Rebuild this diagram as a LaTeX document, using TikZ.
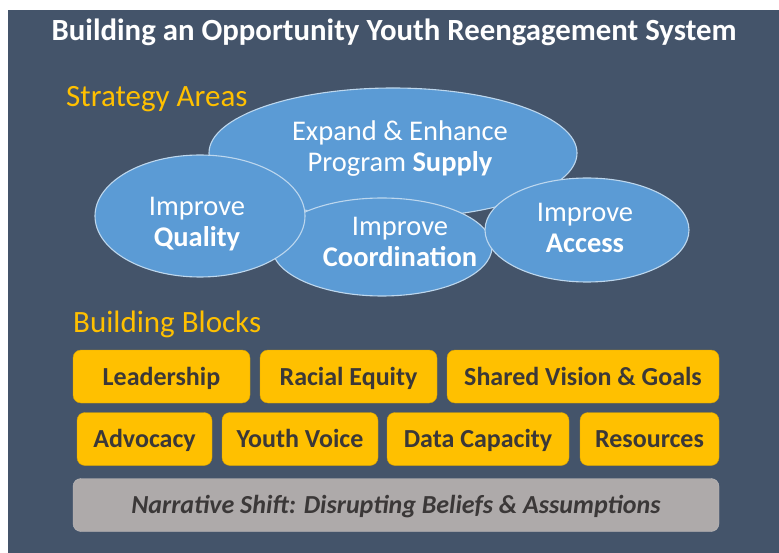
\documentclass[tikz,border=0pt]{standalone}
\usepackage{fontspec}
\setmainfont{Carlito}
\usetikzlibrary{shapes,positioning}

\definecolor{slate}{HTML}{44546A}
\definecolor{skyblue}{HTML}{5B9BD5}
\definecolor{gold}{HTML}{FFC000}
\definecolor{stone}{HTML}{AEAAAA}
\definecolor{ink}{HTML}{3B3838}

\tikzset{
    area/.style={ellipse,draw=white!60!skyblue,line width=1.1pt,fill=skyblue,inner sep=0pt},
    areatext/.style={anchor=base,align=center,text=white,inner sep=0pt,
        font=\fontsize{28.5}{31}\selectfont},
    block/.style={rounded corners=8pt,draw=gold!85!black,fill=gold,text=ink,
        inner sep=0pt,minimum height=53pt,text height=17pt,text depth=0pt,
        font=\bfseries\fontsize{26}{30}\selectfont},
    heading/.style={anchor=base west,inner sep=0pt,text=gold,font=\fontsize{31}{34}\selectfont}
}

\begin{document}
\begin{tikzpicture}[x=1pt,y=-1pt]
    \useasboundingbox (0,0) rectangle (779,553);
    \fill[slate] (8,10) rectangle (779,553);

    \node (title) [anchor=base,inner sep=0pt,text=white,font=\bfseries\fontsize{30.8}{34}\selectfont]
        at (394,41) {Building an Opportunity Youth Reengagement System};

    % strategy areas (anchor=base sits on the second line)
    \node (strategy) [heading] at (66,107) {Strategy Areas};
    \node (supply) [area,minimum width=368pt,minimum height=130pt] at (393,153) {};
    \node (coord) [area,minimum width=220pt,minimum height=98pt] at (382,247) {};
    \node (quality) [area,minimum width=210pt,minimum height=122pt] at (200,216) {};
    \node (access) [area,minimum width=204pt,minimum height=104pt] at (587,230) {};
    \node (supplytext) [areatext] at (400,172) {Expand \& Enhance\\Program \textbf{Supply}};
    \node (qualitytext) [areatext] at (197,247) {Improve\\\textbf{Quality}};
    \node (coordtext) [areatext] at (400,267) {Improve\\\textbf{Coordination}};
    \node (accesstext) [areatext] at (585,253) {Improve\\\textbf{Access}};

    % building blocks
    \node (blocks) [heading] at (73,332) {Building Blocks};
    \node (lead) [block,minimum width=177pt] at (161.5,376.5) {Leadership};
    \node (equity) [block,minimum width=177pt] at (348.5,376.5) {Racial Equity};
    \node (vision) [block,minimum width=272pt] at (583,376.5) {Shared Vision \& Goals};
    \node (advocacy) [block,minimum width=135pt] at (144.5,439) {Advocacy};
    \node (voice) [block,minimum width=156pt] at (300,439) {Youth Voice};
    \node (data) [block,minimum width=182pt] at (478,439) {Data Capacity};
    \node (resources) [block,minimum width=139pt] at (649.5,439) {Resources};
    \node (narrative) [block,minimum width=646pt,fill=stone,draw=stone!80!white,
        font=\bfseries\itshape\fontsize{26}{30}\selectfont] at (396,505)
        {Narrative Shift: Disrupting Beliefs \& Assumptions};
\end{tikzpicture}
\end{document}
